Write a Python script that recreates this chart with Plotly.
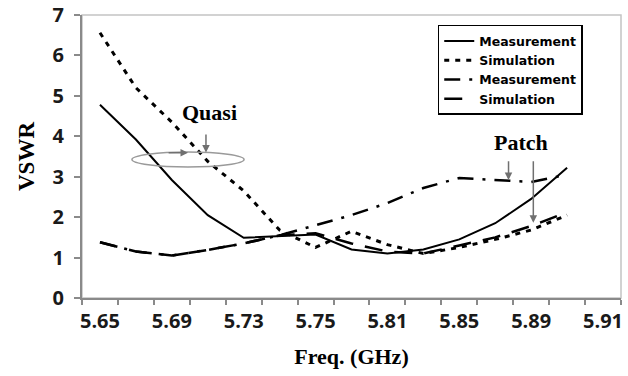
import plotly.graph_objects as go

# category positions (Excel-style category axis: 15 categories, labels every 2nd)
x_index = list(range(14))
tick_positions = [0, 2, 4, 6, 8, 10, 12, 14]
tick_labels = ["5.65", "5.69", "5.73", "5.75", "5.81", "5.85", "5.89", "5.91"]

quasi_measurement = [4.78, 3.92, 2.92, 2.05, 1.49, 1.53, 1.57, 1.2, 1.1, 1.2, 1.45, 1.85, 2.45, 3.22]
quasi_simulation = [6.56, 5.2, 4.35, 3.38, 2.65, 1.68, 1.25, 1.65, 1.32, 1.1, 1.25, 1.45, 1.68, 2.05]
patch_measurement = [1.38, 1.15, 1.05, 1.19, 1.35, 1.55, 1.8, 2.05, 2.35, 2.72, 2.97, 2.92, 2.87, 3.05]
patch_simulation = [1.38, 1.15, 1.05, 1.19, 1.35, 1.55, 1.6, 1.35, 1.15, 1.1, 1.3, 1.5, 1.78, 2.12]

fig = go.Figure()
fig.add_trace(go.Scatter(x=x_index, y=quasi_measurement, mode="lines", name="Measurement",
                         line=dict(color="black", width=2)))
fig.add_trace(go.Scatter(x=x_index, y=quasi_simulation, mode="lines", name="Simulation",
                         line=dict(color="black", width=3, dash="5px,6px")))
fig.add_trace(go.Scatter(x=x_index, y=patch_measurement, mode="lines", name="Measurement",
                         line=dict(color="black", width=2.5, dash="16px,9px,3px,9px")))
fig.add_trace(go.Scatter(x=x_index, y=patch_simulation, mode="lines", name="Simulation",
                         line=dict(color="black", width=2.5, dash="18px,12px")))

# frame (light gray top/right border)
fig.add_shape(type="rect", xref="paper", yref="paper", x0=0, x1=1, y0=0, y1=1,
              line=dict(color="#c4c4c4", width=1.5), layer="below")

serif = "Liberation Serif"
ann_font = dict(family=serif, size=22, color="black", weight="bold")
fig.add_annotation(x=3.05, y=4.6, xref="x", yref="y", text="Quasi", showarrow=False, font=ann_font)
fig.add_annotation(x=11.73, y=3.84, xref="x", yref="y", text="Patch", showarrow=False, font=ann_font)

arrow_style = dict(showarrow=True, arrowhead=2, arrowsize=1, arrowwidth=1.5, arrowcolor="#707070",
                   xref="x", yref="y", axref="x", ayref="y", text="")
fig.add_annotation(x=2.95, y=3.6, ax=2.95, ay=4.08, **arrow_style)
fig.add_annotation(x=2.45, y=3.59, ax=1.87, ay=3.59, **arrow_style)
fig.add_annotation(x=11.37, y=2.92, ax=11.37, ay=3.42, **arrow_style)
fig.add_annotation(x=12.06, y=1.86, ax=12.06, ay=3.42, **arrow_style)

fig.add_shape(type="circle", xref="x", yref="y", x0=0.89, x1=4.01, y0=3.24, y1=3.61,
              line=dict(color="#9a9a9a", width=1.5))

tick_font = dict(family="Open Sans", size=20, color="#1a1a1a", weight="bold")
fig.update_xaxes(range=[-0.5, 14.5], tickvals=tick_positions, ticktext=tick_labels,
                 ticks="", showgrid=False, zeroline=False, showline=True, linecolor="#8a8a8a",
                 linewidth=2, tickfont=tick_font, ticklabelstandoff=4, automargin=False,
                 minor=dict(ticks="outside", tick0=-0.5, dtick=1, ticklen=5, tickcolor="#8a8a8a",
                            tickwidth=2, showgrid=False),
                 title=dict(text="Freq. (GHz)", font=dict(family=serif, size=22, color="black", weight="bold"),
                            standoff=16))
fig.update_yaxes(range=[0, 7], dtick=1, ticks="outside", ticklen=6, tickcolor="#8a8a8a", tickwidth=2,
                 showgrid=False, zeroline=False, showline=True, linecolor="#8a8a8a", linewidth=2,
                 tickfont=tick_font, ticklabelstandoff=6, automargin=False,
                 title=dict(text="VSWR", font=dict(family=serif, size=23, color="black", weight="bold"),
                            standoff=12))

fig.update_layout(
    width=628, height=376,
    margin=dict(l=82, r=7, t=15, b=78, autoexpand=False),
    plot_bgcolor="white", paper_bgcolor="white",
    legend=dict(x=0.66, y=0.965, xanchor="left", yanchor="top",
                bordercolor="black", borderwidth=1.5, bgcolor="white",
                font=dict(family="DejaVu Sans", size=12.5, color="black", weight="bold"),
                tracegroupgap=0, itemwidth=30),
    showlegend=True,
)

# remove the default 8px page margin so the figure sits at the window's top-left corner
fig.write_html("out.html", config={"displayModeBar": False},
               post_script="document.body.style.margin='0';")
